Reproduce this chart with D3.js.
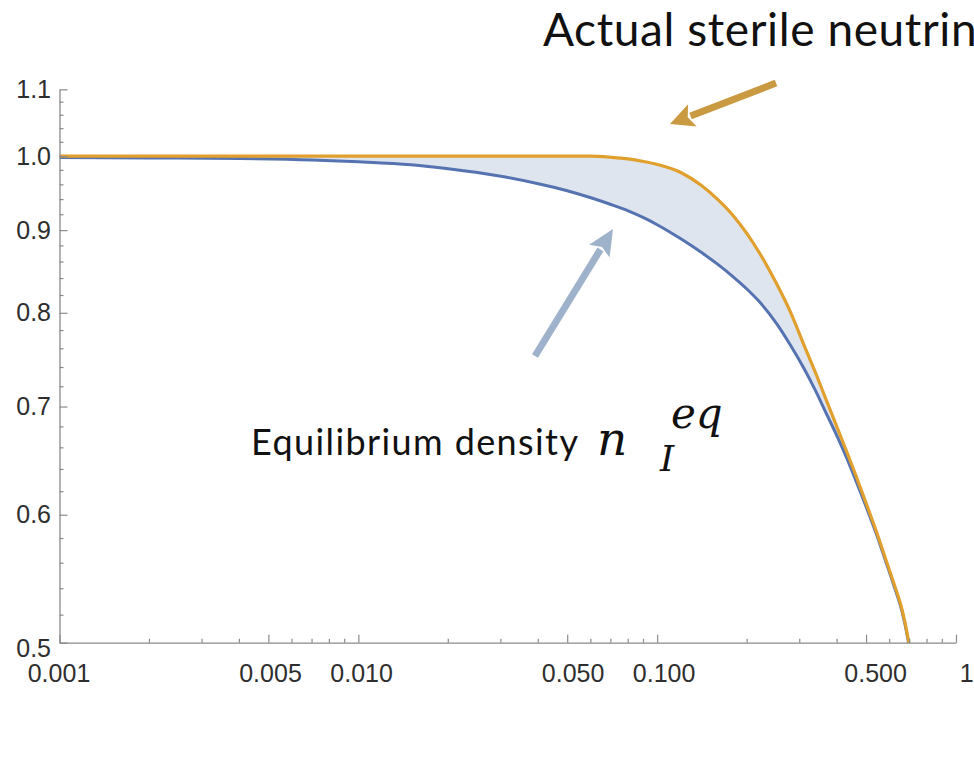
<!DOCTYPE html>
<html>
<head>
<meta charset="utf-8">
<script src="https://cdn.jsdelivr.net/npm/d3@7"></script>
<style>
  html, body { margin: 0; padding: 0; background: #ffffff; overflow: hidden; }
  svg { display: block; }
</style>
</head>
<body>
<svg id="chart" width="974" height="765"></svg>
<script>
// Abscissa (log scale) shared by both curves
const massRatio = [0.001, 0.002, 0.004, 0.007, 0.01, 0.015, 0.02, 0.03, 0.04, 0.05,
  0.06, 0.07, 0.08, 0.09, 0.1, 0.12, 0.14, 0.16, 0.18, 0.2,
  0.22, 0.25, 0.28, 0.31, 0.34, 0.37, 0.40, 0.43, 0.46, 0.50,
  0.54, 0.58, 0.62, 0.66, 0.69, 0.70];

// Equilibrium density n_I^eq (blue)
const equilibriumDensity = [0.9982, 0.9975, 0.9967, 0.9947, 0.9921, 0.9879, 0.9823, 0.9718, 0.9615, 0.952,
  0.9425, 0.9335, 0.925, 0.9161, 0.907, 0.8889, 0.8723, 0.8568, 0.8418, 0.8273,
  0.8126, 0.7886, 0.7633, 0.739, 0.7151, 0.6918, 0.6711, 0.651, 0.6314, 0.6071,
  0.5845, 0.5624, 0.5423, 0.5226, 0.5029, 0.495];

// Actual sterile neutrino density (orange)
const actualDensity = [1.0, 1.0, 1.0, 1.0, 1.0, 1.0, 1.0, 1.0, 1.0, 1.0,
  1.0, 0.9985, 0.9962, 0.9925, 0.9883, 0.9771, 0.9598, 0.9396, 0.9184, 0.8952,
  0.8712, 0.8349, 0.800, 0.7641, 0.7333, 0.7047, 0.6796, 0.657, 0.6361, 0.6101,
  0.5866, 0.5642, 0.5439, 0.5241, 0.5041, 0.4961];

const xTickValues = [0.001, 0.005, 0.01, 0.05, 0.1, 0.5, 1];
const xTickLabels = ["0.001", "0.005", "0.010", "0.050", "0.100", "0.500", "1"];
const yTickValues = [0.5, 0.6, 0.7, 0.8, 0.9, 1.0, 1.1];
const yTickLabels = ["0.5", "0.6", "0.7", "0.8", "0.9", "1.0", "1.1"];

const svg = d3.select("#chart");

const x = d3.scaleLog().domain([0.001, 1]).range([59.5, 956]);
const y = d3.scaleLog().domain([0.5, 1.1]).range([642.7, 89.3]);

const rows = massRatio.map((m, i) => ({ m, eq: equilibriumDensity[i], act: actualDensity[i] }));

// Plot region clip
svg.append("defs").append("clipPath").attr("id", "plotClip")
  .append("rect")
  .attr("x", x(0.001)).attr("y", 60)
  .attr("width", x(1) - x(0.001)).attr("height", y(0.5) - 60);

const plot = svg.append("g").attr("clip-path", "url(#plotClip)");

// Shaded gap between the two curves
plot.append("path")
  .datum(rows)
  .attr("fill", "#dfe5ef")
  .attr("d", d3.area()
    .curve(d3.curveMonotoneX)
    .x(d => x(d.m))
    .y0(d => y(d.eq))
    .y1(d => y(d.act)));

const lineOf = key => d3.line().curve(d3.curveMonotoneX).x(d => x(d.m)).y(d => y(d[key]));

plot.append("path").datum(rows)
  .attr("fill", "none").attr("stroke", "#5573b0").attr("stroke-width", 3)
  .attr("d", lineOf("eq"));

plot.append("path").datum(rows)
  .attr("fill", "none").attr("stroke", "#e1a02e").attr("stroke-width", 3.2)
  .attr("d", lineOf("act"));

// Axes
const axisColor = "#8a8a8a";
const labelFont = "'Liberation Sans', Arial, sans-serif";

const xMinor = x.ticks().filter(t => !xTickValues.some(v => Math.abs(v - t) < 1e-9));
const yMinor = d3.range(0.52, 1.09, 0.02).map(v => +v.toFixed(2))
  .filter(t => !yTickValues.some(v => Math.abs(v - t) < 1e-9));

const gx = svg.append("g").attr("transform", `translate(0,${y(0.5)})`);
gx.call(d3.axisBottom(x)
  .tickValues(xTickValues)
  .tickFormat((d, i) => xTickLabels[i])
  .tickSizeInner(-8).tickSizeOuter(0).tickPadding(21.5));
gx.selectAll(".minor").data(xMinor).enter().append("line")
  .attr("class", "minor")
  .attr("x1", d => x(d)).attr("x2", d => x(d))
  .attr("y1", 0).attr("y2", -4);

const gy = svg.append("g").attr("transform", `translate(${x(0.001)},0)`);
gy.call(d3.axisLeft(y)
  .tickValues(yTickValues)
  .tickFormat((d, i) => yTickLabels[i])
  .tickSizeInner(-8).tickSizeOuter(0).tickPadding(8.5));
gy.selectAll(".minor").data(yMinor).enter().append("line")
  .attr("class", "minor")
  .attr("y1", d => y(d)).attr("y2", d => y(d))
  .attr("x1", 0).attr("x2", 4);

[gx, gy].forEach(g => {
  g.attr("font-family", null).attr("font-size", null);
  g.select(".domain").attr("stroke", axisColor).attr("stroke-width", 1.3);
  g.selectAll("line").attr("stroke", axisColor).attr("stroke-width", 1.2);
  g.selectAll("text")
    .style("font-family", labelFont).style("font-size", "25px").attr("fill", "#2e2e2e");
});
// tick labels drift slightly right of their ticks toward the right end
gx.selectAll(".tick text").attr("dx", d => -1 + (x(d) - x(0.001)) * 0.0125);
gy.selectAll(".tick text").filter(d => d === 0.5).attr("dy", "0.55em");

// Annotations
const arrow = (x1, y1, x2, y2, color, shaft, headLen, headHalf) => {
  const dx = x2 - x1, dy = y2 - y1, L = Math.hypot(dx, dy);
  const ux = dx / L, uy = dy / L, px = -uy, py = ux;
  const bx = x2 - ux * headLen, by = y2 - uy * headLen;
  svg.append("line")
    .attr("x1", x1).attr("y1", y1).attr("x2", bx + ux * 2).attr("y2", by + uy * 2)
    .attr("stroke", color).attr("stroke-width", shaft);
  svg.append("path")
    .attr("d", `M${x2},${y2}L${bx + px * headHalf},${by + py * headHalf}L${bx + ux * 5},${by + uy * 5}L${bx - px * headHalf},${by - py * headHalf}Z`)
    .attr("fill", color);
};

arrow(776, 83, 670, 124, "#c99a42", 7, 24, 12);
arrow(535, 356, 613, 229, "#9fb2cb", 7, 26, 12);

const textFont = "Lato, 'Open Sans', sans-serif";
svg.append("text")
  .attr("x", 543).attr("y", 46)
  .style("font-family", textFont).style("font-size", "46px")
  .style("letter-spacing", "0.6px").attr("fill", "#111")
  .text("Actual sterile neutrino");

svg.append("text")
  .attr("x", 251).attr("y", 455)
  .style("font-family", textFont).style("font-size", "36px")
  .style("letter-spacing", "1.4px").attr("fill", "#111")
  .text("Equilibrium density");

const mathFont = "'DejaVu Serif', serif";
svg.append("text")
  .attr("x", 597).attr("y", 455)
  .style("font-family", mathFont).style("font-style", "italic").style("font-size", "47px")
  .attr("fill", "#111")
  .text("n");
svg.append("text")
  .attr("x", 660).attr("y", 471)
  .style("font-family", mathFont).style("font-style", "italic").style("font-size", "36px")
  .attr("fill", "#111")
  .text("I");
svg.append("text")
  .attr("x", 671).attr("y", 428)
  .style("font-family", mathFont).style("font-style", "italic").style("font-size", "42px")
  .attr("fill", "#111")
  .text("eq");
</script>
</body>
</html>
